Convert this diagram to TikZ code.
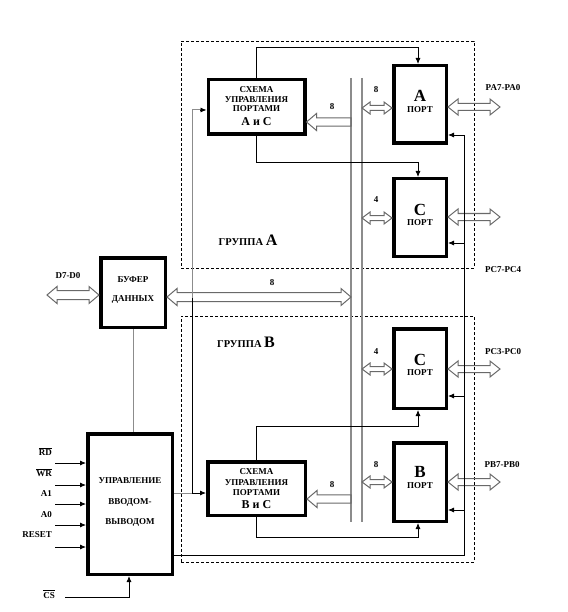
\documentclass[tikz,border=0pt]{standalone}
\usepackage{fontspec}
\setmainfont{Liberation Serif}
\usetikzlibrary{arrows.meta,calc}
\definecolor{busgray}{RGB}{140,140,140}
\definecolor{arrgray}{RGB}{105,105,105}
% double-headed hollow bus arrow: #1 left point, #2 right point, #3 half head width, #4 half shaft width, #5 head length
\newcommand{\dblarrow}[5]{%
  \draw[hollowarrow] let \p1=#1, \p2=#2 in
  (\x1,\y1) -- (\x1+#5pt,\y1+#3pt) -- (\x1+#5pt,\y1+#4pt) -- (\x2-#5pt,\y1+#4pt) -- (\x2-#5pt,\y1+#3pt)
  -- (\x2,\y1) -- (\x2-#5pt,\y1-#3pt) -- (\x2-#5pt,\y1-#4pt) -- (\x1+#5pt,\y1-#4pt) -- (\x1+#5pt,\y1-#3pt) -- cycle;}
% single-headed hollow arrow, head at #1 (left), tail at #2
\newcommand{\sglarrow}[5]{%
  \draw[hollowarrow] let \p1=#1, \p2=#2 in
  (\x1,\y1) -- (\x1+#5pt,\y1+#3pt) -- (\x1+#5pt,\y1+#4pt) -- (\x2,\y1+#4pt) -- (\x2,\y1-#4pt)
  -- (\x1+#5pt,\y1-#4pt) -- (\x1+#5pt,\y1-#3pt) -- cycle;}
\begin{document}
\begin{tikzpicture}[x=1pt,y=-1pt,
  blk/.style={draw, line width=3.5pt, inner sep=0pt},
  lbl/.style={anchor=base, inner sep=0pt, font=\bfseries\fontsize{9}{10}\selectfont},
  biglbl/.style={anchor=base, inner sep=0pt, font=\bfseries\fontsize{17}{17}\selectfont},
  midlbl/.style={anchor=base, inner sep=0pt, font=\bfseries\fontsize{12}{12}\selectfont},
  inlbl/.style={anchor=base east, inner sep=0pt, font=\bfseries\fontsize{9}{10}\selectfont},
  ln/.style={line width=0.8pt},
  gln/.style={line width=1pt, busgray},
  arr/.style={-{Latex[length=6pt,width=5pt]}},
  hollowarrow/.style={draw=arrgray, line width=1pt},
  grpbox/.style={draw, dash pattern=on 3pt off 2pt, line width=0.7pt},
  busline/.style={line width=1.5pt, busgray}]
\useasboundingbox (0,0) rectangle (567,612);

% group frames
\node[grpbox, minimum width=293pt, minimum height=227pt, inner sep=0pt] (grpA) at (327.5,154.5) {};
\node[grpbox, minimum width=293pt, minimum height=246pt, inner sep=0pt] (grpB) at (327.5,439) {};

% blocks
\node[blk, minimum width=96.5pt, minimum height=54.5pt] (schA) at (256.5,107) {};
\node[blk, minimum width=97.5pt, minimum height=53.5pt] (schB) at (256.5,488.5) {};
\node[blk, minimum width=52.5pt, minimum height=77.5pt] (portA) at (420,104.5) {};
\node[blk, minimum width=52.5pt, minimum height=77.5pt] (portCt) at (420,217.5) {};
\node[blk, minimum width=52.5pt, minimum height=79.5pt] (portCb) at (420,368.5) {};
\node[blk, minimum width=52.5pt, minimum height=78.5pt] (portB) at (420,482) {};
\node[blk, minimum width=64.5pt, minimum height=69.5pt] (buf) at (133,292.5) {};
\node[blk, minimum width=84.5pt, minimum height=140.5pt] (ctrl) at (130,504) {};

% block texts
\node[lbl] (tA1) at (256.5,93) {СХЕМА};
\node[lbl] (tA2) at (256.5,102.5) {УПРАВЛЕНИЯ};
\node[lbl] (tA3) at (256.5,112) {ПОРТАМИ};
\node[midlbl] (tA4) at (256.5,126) {А и С};
\node[lbl] (tB1) at (256.5,474.5) {СХЕМА};
\node[lbl] (tB2) at (256.5,485) {УПРАВЛЕНИЯ};
\node[lbl] (tB3) at (256.5,495) {ПОРТАМИ};
\node[midlbl] (tB4) at (256.5,508.5) {В и С};
\node[biglbl] (pAt) at (420,102) {A};
\node[lbl] (pAp) at (420,113) {ПОРТ};
\node[biglbl] (pCtt) at (420,215) {C};
\node[lbl] (pCtp) at (420,225.5) {ПОРТ};
\node[biglbl] (pCbt) at (420,365) {C};
\node[lbl] (pCbp) at (420,375.5) {ПОРТ};
\node[biglbl] (pBt) at (420,477) {B};
\node[lbl] (pBp) at (420,488) {ПОРТ};
\node[lbl] (buf1) at (133,282) {БУФЕР};
\node[lbl] (buf2) at (133,301.5) {ДАННЫХ};
\node[lbl] (ct1) at (130,483) {УПРАВЛЕНИЕ};
\node[lbl] (ct2) at (130,504) {ВВОДОМ-};
\node[lbl] (ct3) at (130,524) {ВЫВОДОМ};
\node[lbl, font=\bfseries\fontsize{10.5}{11}\selectfont] (gAl) at (248,245) {ГРУППА {\fontsize{16}{16}\selectfont А}};
\node[lbl, font=\bfseries\fontsize{10.5}{11}\selectfont] (gBl) at (246,347.5) {ГРУППА {\fontsize{16}{16}\selectfont В}};

% bus lines
\coordinate (busLt) at (351,78);
\coordinate (busLb) at (351,522);
\coordinate (busRt) at (362,78);
\coordinate (busRb) at (362,522);
\draw[busline] (busLt) -- (busLb);
\draw[busline] (busRt) -- (busRb);

% hollow bus arrows
\coordinate (dIn) at (47,295);
\dblarrow{(dIn)}{(buf.west |- dIn)}{8.5}{4.5}{10}
\coordinate (dBus) at (0,297);
\dblarrow{(buf.east |- dBus)}{(busLt |- dBus)}{8.5}{4.5}{10}
\coordinate (sAy) at (0,122);
\sglarrow{(schA.east |- sAy)}{(busLt |- sAy)}{8.5}{4.2}{10}
\coordinate (sBy) at (0,499);
\sglarrow{(schB.east |- sBy)}{(busLt |- sBy)}{8.5}{4.2}{10}
\coordinate (pAy) at (0,108);
\dblarrow{(busRt |- pAy)}{(portA.west |- pAy)}{6}{2.5}{8}
\coordinate (pCty) at (0,218);
\dblarrow{(busRt |- pCty)}{(portCt.west |- pCty)}{6}{2.5}{8}
\coordinate (pCby) at (0,369);
\dblarrow{(busRt |- pCby)}{(portCb.west |- pCby)}{6}{2.5}{8}
\coordinate (pBy) at (0,482);
\dblarrow{(busRt |- pBy)}{(portB.west |- pBy)}{6}{2.5}{8}
\coordinate (oA) at (500,107);
\dblarrow{(portA.east |- oA)}{(oA)}{8}{3.5}{10}
\coordinate (oCt) at (500,217);
\dblarrow{(portCt.east |- oCt)}{(oCt)}{8}{3.5}{10}
\coordinate (oCb) at (500,369);
\dblarrow{(portCb.east |- oCb)}{(oCb)}{8}{3.5}{10}
\coordinate (oB) at (500,482);
\dblarrow{(portB.east |- oB)}{(oB)}{8}{3.5}{10}

% bus labels
\node[lbl] (n1) at (272,285) {8};
\node[lbl] (n2) at (332,110) {8};
\node[lbl] (n3) at (376,93) {8};
\node[lbl] (n4) at (376,203) {4};
\node[lbl] (n5) at (376,354) {4};
\node[lbl] (n6) at (376,467) {8};
\node[lbl] (n7) at (332,487) {8};
\node[lbl] (lPA) at (503,91) {PA7-PA0};
\node[lbl] (lPC1) at (503,272) {PC7-PC4};
\node[lbl] (lPC2) at (503,354) {PC3-PC0};
\node[lbl] (lPB) at (502,467) {PB7-PB0};
\node[lbl] (lD) at (68,278) {D7-D0};

% control signals between schemes and ports
\coordinate (sAt) at (256.5,47);
\coordinate (sAb) at (256.5,162);
\coordinate (sBt) at (256.5,426);
\coordinate (sBb) at (256.5,537);
\draw[ln,arr] (schA.north) -- (sAt) -- ([xshift=-2pt]portA.north |- sAt) -- ([xshift=-2pt]portA.north);
\draw[ln,arr] (schA.south) -- (sAb) -- ([xshift=-2pt]portCt.north |- sAb) -- ([xshift=-2pt]portCt.north);
\draw[ln,arr] (schB.north) -- (sBt) -- ([xshift=-2pt]portCb.south |- sBt) -- ([xshift=-2pt]portCb.south);
\draw[ln,arr] (schB.south) -- (sBb) -- ([xshift=-2pt]portB.south |- sBb) -- ([xshift=-2pt]portB.south);

% control line from I/O control to ports
\coordinate (cBot) at (464,555);
\coordinate (cA) at (464,135);
\coordinate (cCt) at (464,243);
\coordinate (cCb) at (464,396);
\coordinate (cB) at (464,510);
\draw[ln,arr] (ctrl.east |- cBot) -- (cBot) -- (cA) -- (cA -| portA.east);
\draw[ln,arr] (cCt) -- (cCt -| portCt.east);
\draw[ln,arr] (cCb) -- (cCb -| portCb.east);
\draw[ln,arr] (cB) -- (cB -| portB.east);

% control to schemes
\coordinate (kB) at (192,493);
\coordinate (kBus) at (192,298);
\coordinate (kA) at (192,110);
\draw[gln] (ctrl.east |- kB) -- (kB);
\draw[ln,arr] (kB) -- (kB -| schB.west);
\draw[ln] (kB) -- (kBus);
\draw[gln] (kBus) -- (kA) -- ([xshift=-6pt]kA -| schA.west);
\draw[ln,arr] ([xshift=-6.5pt]kA -| schA.west) -- (kA -| schA.west);

% buffer to control
\draw[gln] (buf.south) -- (buf.south |- ctrl.north);

% inputs
\coordinate (iRD) at (55,463);
\coordinate (iWR) at (55,485);
\coordinate (iA1) at (55,504);
\coordinate (iA0) at (55,525);
\coordinate (iRS) at (55,547);
\draw[ln,arr] (iRD) -- (iRD -| ctrl.west);
\draw[ln,arr] (iWR) -- (iWR -| ctrl.west);
\draw[ln,arr] (iA1) -- (iA1 -| ctrl.west);
\draw[ln,arr] (iA0) -- (iA0 -| ctrl.west);
\draw[ln,arr] (iRS) -- (iRS -| ctrl.west);
\node[inlbl] (lRD) at (52,455) {$\overline{\hbox{RD}}$};
\node[inlbl] (lWR) at (52,476) {$\overline{\hbox{WR}}$};
\node[inlbl] (lA1) at (52,496.5) {A1};
\node[inlbl] (lA0) at (52,517) {A0};
\node[inlbl] (lRS) at (52,537.5) {RESET};
\node[inlbl] (lCS) at (55,598) {$\overline{\hbox{CS}}$};
\coordinate (iCS) at (65,597);
\coordinate (iCSk) at (129,597);
\draw[ln,arr] (iCS) -- (iCSk) -- (iCSk |- ctrl.south);
\end{tikzpicture}
\end{document}
